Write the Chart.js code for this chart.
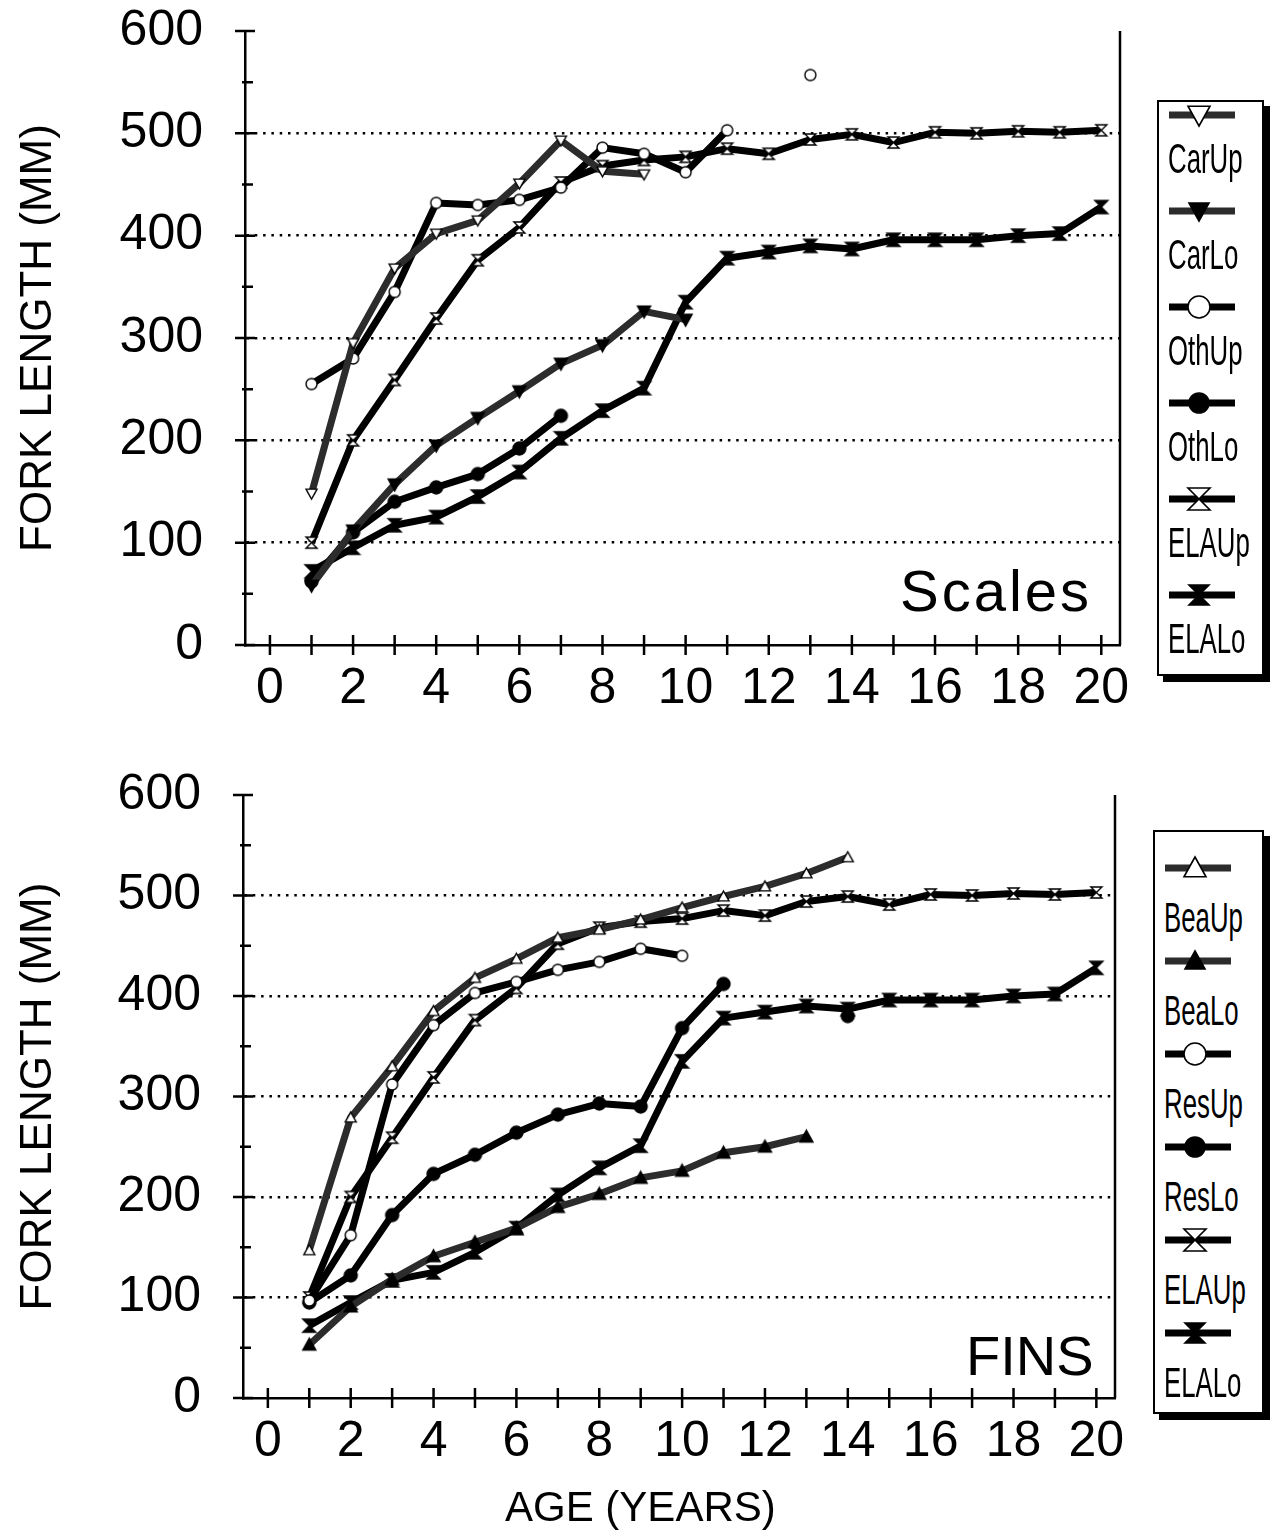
<!DOCTYPE html>
<html>
<head>
<meta charset="utf-8">
<script src="https://cdn.jsdelivr.net/npm/chart.js@4.4.0/dist/chart.umd.min.js"></script>
<style>
  body { margin: 0; background: #fff; width: 1271px; height: 1534px; position: relative; overflow: hidden;
         font-family: 'Liberation Sans', Arial, sans-serif; color: #000; }
  .wrap { position: absolute; left: 0; width: 1140px; }
  #topWrap { top: 0; height: 760px; }
  #botWrap { top: 760px; height: 774px; }
  .tag { position: absolute; line-height: 1; white-space: nowrap; }
  .legend { position: absolute; border: 2px solid #000; box-shadow: 6px 6px 0 #000; background: #fff; box-sizing: border-box; }
  .legText { position: absolute; font-size: 43px; line-height: 1; transform: scaleX(0.6); transform-origin: left top; white-space: nowrap; }
  .legLine { position: absolute; }
</style>
</head>
<body>
<div class="wrap" id="topWrap"><canvas id="scalesChart"></canvas></div>
<div class="wrap" id="botWrap"><canvas id="finsChart"></canvas></div>

<div class="tag" style="left:900px;top:562px;font-size:58px;letter-spacing:3px;">Scales</div>
<div class="tag" style="left:966px;top:1328px;font-size:56px;">FINS</div>
<div class="tag" style="left:505px;top:1486px;font-size:42px;">AGE (YEARS)</div>

<div class="legend" id="legTop" style="left:1157px;top:100px;width:107px;height:576px;"></div>
<div class="legend" id="legBot" style="left:1153px;top:830px;width:111px;height:584px;"></div>

<script>
// Age in years, one value per age starting at 1
const ages = [1, 2, 3, 4, 5, 6, 7, 8, 9, 10, 11, 12, 13, 14, 15, 16, 17, 18, 19, 20];

// Back-calculated fork length (mm) from scales
const carUp = [148, 295, 368, 402, 415, 451, 493, 463, 460];
const carLo = [58, 112, 157, 195, 222, 248, 275, 293, 326, 318];
const othUp = [255, 280, 345, 432, 430, 435, 447, 486, 480, 462, 503, null, 557];
const othLo = [62, 110, 140, 154, 167, 192, 224];

// ELA reference curves (shown in both panels)
const elaUp = [100, 200, 259, 319, 376, 408, 452, 468, 474, 477, 485, 480, 494, 499, 491, 501, 500, 502, 501, 503];
const elaLo = [72, 95, 117, 125, 145, 169, 202, 229, 251, 335, 378, 384, 390, 387, 396, 396, 396, 400, 402, 428];

// Back-calculated fork length (mm) from fins
const beaUp = [147, 279, 330, 385, 418, 437, 458, 466, 476, 488, 499, 509, 522, 538];
const beaLo = [53, 91, 118, 141, 155, 169, 190, 203, 219, 226, 244, 250, 260];
const resUp = [97, 162, 312, 371, 403, 414, 426, 434, 447, 440];
const resLo = [95, 122, 182, 223, 242, 264, 282, 293, 290, 368, 412, null, null, 380];

const yTicks = [0, 100, 200, 300, 400, 500, 600];
const xLabels = [0, 2, 4, 6, 8, 10, 12, 14, 16, 18, 20];

const GREY = '#2c2c2c';
const BLACK = '#000';

function drawMarker(ctx, shape, filled, cx, cy, r, lw) {
    ctx.beginPath();
    if (shape === 'circle') {
        ctx.arc(cx, cy, r, 0, Math.PI * 2);
    } else if (shape === 'triUp') {
        ctx.moveTo(cx, cy - r);
        ctx.lineTo(cx + r, cy + r * 0.8);
        ctx.lineTo(cx - r, cy + r * 0.8);
        ctx.closePath();
    } else if (shape === 'triDown') {
        ctx.moveTo(cx - r, cy - r * 0.8);
        ctx.lineTo(cx + r, cy - r * 0.8);
        ctx.lineTo(cx, cy + r);
        ctx.closePath();
    } else {
        // hourglass
        ctx.moveTo(cx - r, cy - r);
        ctx.lineTo(cx + r, cy - r);
        ctx.lineTo(cx - r, cy + r);
        ctx.lineTo(cx + r, cy + r);
        ctx.closePath();
    }
    ctx.fillStyle = filled ? '#000' : '#fff';
    ctx.fill();
    ctx.lineWidth = lw;
    ctx.strokeStyle = '#000';
    ctx.stroke();
}

function markerImage(shape, filled, r) {
    const c = document.createElement('canvas');
    const s = Math.ceil(2 * r + 4);
    c.width = c.height = s;
    drawMarker(c.getContext('2d'), shape, filled, s / 2, s / 2, r, 1.4);
    return c;
}

function series(label, values, shape, filled, color) {
    return {
        label: label,
        data: values.map((v, i) => ({ x: ages[i], y: v })),
        borderColor: color,
        borderWidth: 7,
        borderJoinStyle: 'round',
        pointStyle: markerImage(shape, filled, filled ? 6.5 : 5.5),
        pointRadius: 6,
        tension: 0,
        spanGaps: false,
        clip: false,
        _shape: shape,
        _filled: filled
    };
}

// crossing tick marks on both axes plus the right frame line
const axisMarks = {
    id: 'axisMarks',
    afterDraw(chart) {
        const { ctx, chartArea: a, scales } = chart;
        ctx.save();
        ctx.strokeStyle = '#000';
        ctx.lineWidth = 2.5;
        ctx.beginPath();
        ctx.moveTo(a.right, a.top);
        ctx.lineTo(a.right, a.bottom);
        for (let v = 0; v <= 20; v++) {
            const px = scales.x.getPixelForValue(v);
            ctx.moveTo(px, a.bottom - 10);
            ctx.lineTo(px, a.bottom + 10);
        }
        for (let v = 0; v <= 600; v += 50) {
            const py = scales.y.getPixelForValue(v);
            if (v % 100 === 0) {
                ctx.moveTo(a.left - 10, py);
                ctx.lineTo(a.left + 10, py);
            } else {
                ctx.moveTo(a.left - 3, py);
                ctx.lineTo(a.left + 8, py);
            }
        }
        ctx.stroke();
        ctx.restore();
    }
};

function makeChart(id, datasets, yAxisWidth, xAxisHeight, pad) {
    return new Chart(document.getElementById(id), {
        type: 'line',
        data: { datasets: datasets },
        plugins: [axisMarks],
        options: {
            responsive: true,
            maintainAspectRatio: false,
            animation: false,
            events: [],
            layout: { padding: pad },
            plugins: { legend: { display: false }, tooltip: { enabled: false } },
            scales: {
                x: {
                    type: 'linear',
                    min: -0.6,
                    max: 20.45,
                    afterFit(s) {
                        s.height = xAxisHeight;
                        s.paddingLeft = 0;
                        s.paddingRight = 0;
                    },
                    grid: { display: false, drawTicks: false },
                    border: { display: true, color: '#000', width: 2.5 },
                    ticks: {
                        stepSize: 1,
                        includeBounds: false,
                        autoSkip: false,
                        maxRotation: 0,
                        padding: 14,
                        color: '#000',
                        font: { family: "'Liberation Sans', Arial, sans-serif", size: 50 },
                        callback: v => xLabels.includes(v) ? String(v) : ''
                    }
                },
                y: {
                    min: 0,
                    max: 600,
                    afterFit(s) {
                        s.width = yAxisWidth;
                        s.paddingTop = 0;
                        s.paddingBottom = 0;
                    },
                    afterBuildTicks(s) { s.ticks = yTicks.map(v => ({ value: v })); },
                    grid: {
                        drawTicks: false,
                        lineWidth: 2.5,
                        color: c => (c.tick && c.tick.value > 0 && c.tick.value < 600) ? '#000' : 'rgba(0,0,0,0)'
                    },
                    border: { display: true, color: '#000', width: 2.5, dash: [2.5, 5.8] },
                    title: {
                        display: true,
                        text: 'FORK LENGTH (MM)',
                        color: '#000',
                        padding: { top: 12, bottom: 0 },
                        font: { family: "'Liberation Sans', Arial, sans-serif", size: 44 }
                    },
                    ticks: {
                        padding: 42,
                        color: '#000',
                        font: { family: "'Liberation Sans', Arial, sans-serif", size: 50 }
                    }
                }
            }
        }
    });
}

const scalesSets = [
    series('CarUp', carUp, 'triDown', false, GREY),
    series('CarLo', carLo, 'triDown', true, GREY),
    series('OthUp', othUp, 'circle', false, BLACK),
    series('OthLo', othLo, 'circle', true, BLACK),
    series('ELAUp', elaUp, 'hourglass', false, BLACK),
    series('ELALo', elaLo, 'hourglass', true, BLACK)
];

const finsSets = [
    series('BeaUp', beaUp, 'triUp', false, GREY),
    series('BeaLo', beaLo, 'triUp', true, GREY),
    series('ResUp', resUp, 'circle', false, BLACK),
    series('ResLo', resLo, 'circle', true, BLACK),
    series('ELAUp', elaUp, 'hourglass', false, BLACK),
    series('ELALo', elaLo, 'hourglass', true, BLACK)
];

const scalesChart = makeChart('scalesChart', scalesSets, 245, 115, { top: 31, right: 20 });
const finsChart = makeChart('finsChart', finsSets, 243, 136, { top: 35, right: 25 });

// side legends: line sample with marker above each label
function buildLegend(boxId, sets, firstLine, step, textGap) {
    const box = document.getElementById(boxId);
    sets.forEach((ds, i) => {
        const lineY = firstLine + i * step;
        const c = document.createElement('canvas');
        c.width = 100; c.height = 40;
        c.className = 'legLine';
        c.style.left = '4px';
        c.style.top = (lineY - 20) + 'px';
        const ctx = c.getContext('2d');
        ctx.strokeStyle = ds.borderColor;
        ctx.lineWidth = 7;
        ctx.beginPath();
        ctx.moveTo(6, 20);
        ctx.lineTo(72, 20);
        ctx.stroke();
        drawMarker(ctx, ds._shape, ds._filled, 36, 20, ds._filled ? 10 : 11, 1.6);
        box.appendChild(c);

        const t = document.createElement('div');
        t.className = 'legText';
        t.textContent = ds.label;
        t.style.left = '9px';
        t.style.top = (lineY + textGap) + 'px';
        box.appendChild(t);
    });
}

buildLegend('legTop', scalesSets, 13, 96, 22);
buildLegend('legBot', finsSets, 36, 93, 28);
</script>
</body>
</html>
